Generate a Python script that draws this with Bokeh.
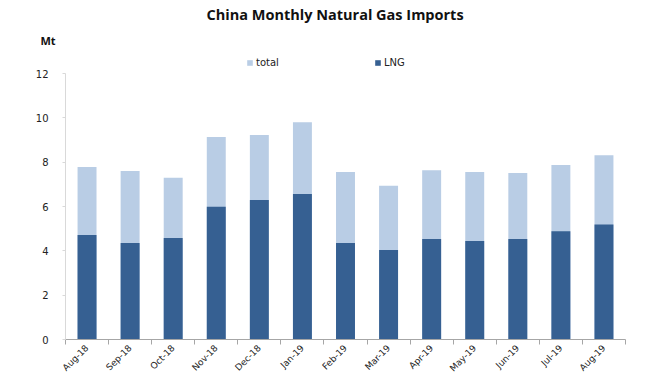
import math
from bokeh.plotting import figure
from bokeh.models import (ColumnDataSource, Range1d, FixedTicker, Title,
                          Legend, LegendItem)
from bokeh.embed import file_html
from bokeh.resources import INLINE

months = ["Aug-18", "Sep-18", "Oct-18", "Nov-18", "Dec-18", "Jan-19", "Feb-19",
          "Mar-19", "Apr-19", "May-19", "Jun-19", "Jul-19", "Aug-19"]
total = [7.78, 7.60, 7.30, 9.14, 9.23, 9.80, 7.56, 6.94, 7.64, 7.56, 7.51, 7.87, 8.31]
lng = [4.71, 4.36, 4.58, 5.99, 6.29, 6.56, 4.36, 4.04, 4.54, 4.44, 4.54, 4.89, 5.19]
y_ticks = [0, 2, 4, 6, 8, 10, 12]

Y_MAX = 12
Y_TOP = 12.77  # headroom above the axis for the legend row

idx = list(range(len(months)))
src = ColumnDataSource(dict(x=idx, month=months, total=total, lng=lng))

p = figure(width=670, height=380, output_backend="svg", toolbar_location=None,
           x_range=Range1d(-0.5, len(months) - 0.5), y_range=Range1d(0, Y_TOP),
           min_border_left=65, min_border_right=45, min_border_top=56,
           min_border_bottom=27)
p.outline_line_color = None
p.xgrid.visible = False
p.ygrid.visible = False

r_total = p.vbar(x="x", top="total", width=0.44, source=src,
                 fill_color="#B9CDE5", line_color=None)
r_lng = p.vbar(x="x", top="lng", width=0.44, source=src,
               fill_color="#366092", line_color=None)

# y axis
p.yaxis.ticker = FixedTicker(ticks=y_ticks)
p.yaxis.bounds = (0, Y_MAX)
p.yaxis.axis_line_color = "#D9D9D9"
p.yaxis.major_tick_line_color = "#D9D9D9"
p.yaxis.major_tick_in = 0
p.yaxis.major_tick_out = 3
p.yaxis.minor_tick_line_color = None
p.yaxis.major_label_standoff = 14
p.yaxis.major_label_text_font = "DejaVu Sans"
p.yaxis.major_label_text_font_size = "10px"
p.yaxis.major_label_text_color = "#222222"

# x axis: labels at category centres, tick marks at category boundaries
p.xaxis.ticker = FixedTicker(ticks=idx,
                             minor_ticks=[i - 0.5 for i in range(len(months) + 1)])
p.xaxis.major_label_overrides = {i: m for i, m in enumerate(months)}
p.xaxis.axis_line_color = "#A6A6A6"
p.xaxis.major_tick_line_color = None
p.xaxis.major_tick_in = 0
p.xaxis.major_tick_out = 0
p.xaxis.minor_tick_line_color = "#A6A6A6"
p.xaxis.minor_tick_in = 0
p.xaxis.minor_tick_out = 5
p.xaxis.major_label_orientation = math.pi / 4
p.xaxis.major_label_standoff = 2
p.xaxis.major_label_text_font = "DejaVu Sans"
p.xaxis.major_label_text_font_size = "9px"
p.xaxis.major_label_text_color = "#222222"

legend = Legend(items=[LegendItem(label="total", renderers=[r_total]),
                       LegendItem(label="LNG", renderers=[r_lng])],
                orientation="horizontal", location="top_center",
                glyph_width=7, glyph_height=7, label_standoff=3, spacing=58,
                label_width=60, padding=6, margin=0, border_line_color=None,
                background_fill_alpha=0, label_text_font="DejaVu Sans",
                label_text_font_size="10px", label_text_color="#222222",
                label_height=12)
p.add_layout(legend, "center")

unit = Title(text="Mt", align="left", offset=-25, standoff=18,
             text_font="Open Sans", text_font_style="bold", text_font_size="11px",
             text_color="#111111")
p.add_layout(unit, "above")

title = Title(text="China Monthly Natural Gas  Imports", align="left", offset=141,
              standoff=-4, text_font="Open Sans", text_font_style="bold",
              text_font_size="14.5px", text_color="#111111")
p.add_layout(title, "above")

open("out.html", "w").write(file_html(p, INLINE))
